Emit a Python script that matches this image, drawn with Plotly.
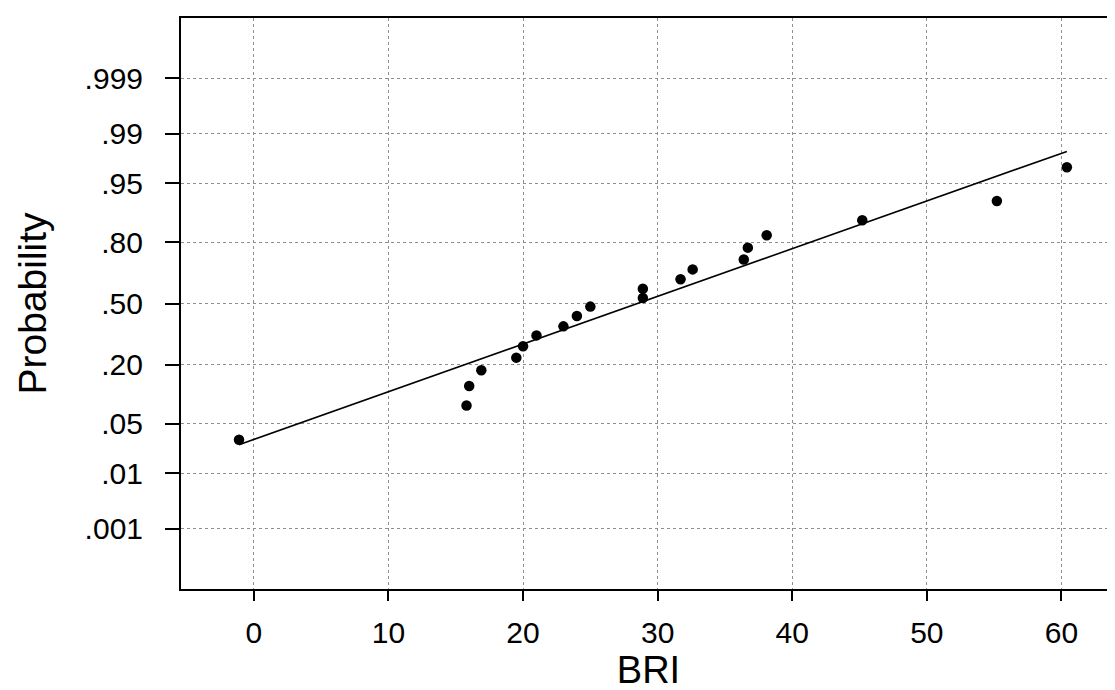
from statistics import NormalDist
import plotly.graph_objects as go

# Data (normal probability plot)
bri = [-1.1, 15.8, 16.0, 16.9, 19.5, 20.0, 21.0, 23.0, 24.0, 25.0,
       28.9, 28.9, 31.7, 32.6, 36.4, 36.7, 38.1, 45.2, 55.2, 60.4]
prob = [0.031, 0.081, 0.129, 0.180, 0.229, 0.279, 0.331, 0.377, 0.432, 0.483,
        0.530, 0.580, 0.630, 0.680, 0.727, 0.778, 0.825, 0.873, 0.920, 0.969]

# fitted normal reference line parameters
fit_mean = 28.5
fit_sd = 15.3

y_tick_probs = [0.001, 0.01, 0.05, 0.20, 0.50, 0.80, 0.95, 0.99, 0.999]
y_tick_text = [".001", ".01", ".05", ".20", ".50", ".80", ".95", ".99", ".999"]
x_ticks = [0, 10, 20, 30, 40, 50, 60]

nd = NormalDist()
z = [nd.inv_cdf(p) for p in prob]
z_ticks = [nd.inv_cdf(p) for p in y_tick_probs]

line_x = [min(bri), max(bri)]
line_z = [(v - fit_mean) / fit_sd for v in line_x]

FONT = "Liberation Sans, Arial, Helvetica, sans-serif"

fig = go.Figure()
fig.add_trace(go.Scatter(x=line_x, y=line_z, mode="lines",
                         line=dict(color="black", width=1.6),
                         hoverinfo="skip", showlegend=False))
fig.add_trace(go.Scatter(x=bri, y=z, mode="markers",
                         marker=dict(color="black", size=10.5),
                         showlegend=False))

fig.update_layout(
    width=1115, height=690,
    margin=dict(l=173, r=5, t=10, b=109),
    paper_bgcolor="white", plot_bgcolor="white",
    font=dict(family=FONT, color="black"),
    showlegend=False,
)
fig.update_xaxes(
    range=[-5.41, 64.05], tickvals=x_ticks,
    ticks="outside", ticklen=10, tickwidth=2, tickcolor="black",
    tickfont=dict(size=30), ticklabelstandoff=6,
    showline=True, linewidth=2, linecolor="black", mirror=True,
    showgrid=True, gridcolor="#8f8f8f", gridwidth=1, griddash="3px,3px",
    zeroline=False,
    title=dict(text="BRI", font=dict(size=38), standoff=5),
)
fig.update_yaxes(
    range=[-3.913, 3.913], tickvals=z_ticks, ticktext=y_tick_text,
    ticks="outside", ticklen=14, tickwidth=2, tickcolor="black",
    tickfont=dict(size=30), ticklabelstandoff=16,
    showline=True, linewidth=2, linecolor="black", mirror=True,
    showgrid=True, gridcolor="#8f8f8f", gridwidth=1, griddash="3px,3px",
    zeroline=False,
    title=dict(text="Probability", font=dict(size=39), standoff=26),
)

fig.write_html("out.html")
